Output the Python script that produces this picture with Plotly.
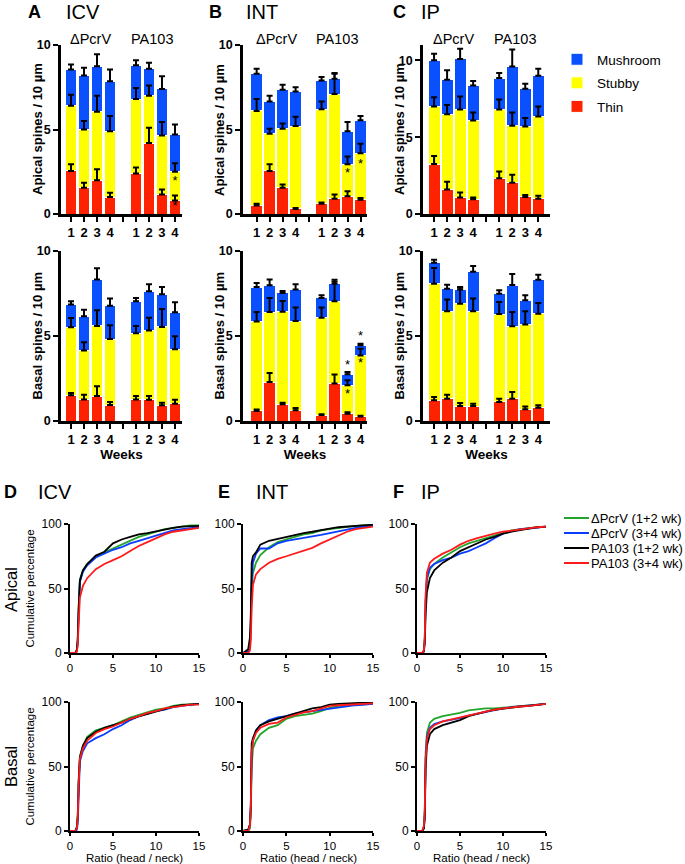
import numpy as np
import plotly.graph_objects as go

W, H = 685, 864
FONT = "Arial, 'Liberation Sans', Helvetica, sans-serif"

# ---------------- bar-chart data (segment heights, spines / 10 um) ----------------
tick_text = ["1", "2", "3", "4", "", "1", "2", "3", "4"]
bar_x = [0, 1, 2, 3, 5, 6, 7, 8]          # dPcrV wk1-4, PA103 wk1-4 (4 = gap)
group_labels = ["\u0394PcrV", "PA103"]
spine_types = ["Thin", "Stubby", "Mushroom"]
bar_colors = ["#FF2200", "#FFFF00", "#0A50FF"]

icv_ap_thin = [2.55, 1.55, 2.0, 1.0, 2.4, 4.2, 1.15, 0.8]
icv_ap_stubby = [3.85, 3.45, 4.05, 3.9, 4.4, 2.8, 3.5, 1.7]
icv_ap_mush = [2.15, 3.2, 2.7, 2.95, 2.0, 1.6, 2.75, 2.2]
icv_ap_thin_err = [0.4, 0.3, 0.65, 0.25, 0.35, 0.9, 0.3, 0.3]
icv_ap_stubby_err = [0.65, 0.5, 0.95, 0.9, 0.65, 0.6, 0.8, 0.5]
icv_ap_mush_err = [0.3, 0.45, 0.7, 0.7, 0.3, 0.35, 0.75, 0.6]

int_ap_thin = [0.5, 2.55, 1.55, 0.3, 0.6, 0.9, 1.05, 0.85]
int_ap_stubby = [5.6, 2.2, 3.5, 4.9, 5.6, 6.2, 1.9, 2.75]
int_ap_mush = [2.2, 1.9, 2.3, 2.05, 1.7, 0.9, 1.95, 1.95]
int_ap_thin_err = [0.1, 0.4, 0.2, 0.05, 0.08, 0.25, 0.3, 0.1]
int_ap_stubby_err = [0.7, 0.3, 0.3, 0.55, 0.45, 1.2, 0.45, 0.55]
int_ap_mush_err = [0.3, 0.35, 0.3, 0.25, 0.2, 0.35, 0.55, 0.25]

ip_ap_thin = [3.25, 1.6, 1.07, 0.96, 2.33, 2.03, 1.11, 1.0]
ip_ap_stubby = [3.75, 4.9, 5.73, 5.12, 4.47, 3.72, 4.58, 5.34]
ip_ap_mush = [3.0, 2.24, 3.29, 2.29, 2.05, 3.85, 2.46, 2.66]
ip_ap_thin_err = [0.52, 0.5, 0.33, 0.11, 0.44, 0.52, 0.13, 0.18]
ip_ap_stubby_err = [0.6, 0.6, 0.85, 0.52, 0.65, 0.85, 0.56, 0.66]
ip_ap_mush_err = [0.43, 0.61, 0.67, 0.28, 0.32, 1.1, 0.32, 0.45]

icv_ba_thin = [1.51, 1.27, 1.47, 0.94, 1.27, 1.25, 0.92, 1.02]
icv_ba_stubby = [4.0, 2.87, 4.12, 3.88, 3.89, 4.08, 4.61, 3.2]
icv_ba_mush = [1.35, 2.02, 2.74, 1.96, 1.88, 2.3, 1.92, 2.17]
icv_ba_thin_err = [0.14, 0.28, 0.57, 0.18, 0.2, 0.22, 0.16, 0.23]
icv_ba_stubby_err = [0.55, 0.49, 0.92, 0.81, 0.43, 0.75, 1.06, 0.76]
icv_ba_mush_err = [0.18, 0.39, 0.65, 0.42, 0.2, 0.41, 0.43, 0.59]

int_ba_thin = [0.59, 2.29, 0.98, 0.63, 0.35, 2.2, 0.43, 0.27]
int_ba_stubby = [5.27, 4.12, 5.45, 5.25, 5.73, 4.84, 1.67, 3.59]
int_ba_mush = [2.02, 1.57, 1.1, 1.85, 1.16, 1.04, 0.65, 0.59]
int_ba_thin_err = [0.08, 0.53, 0.1, 0.13, 0.04, 0.53, 0.08, 0.04]
int_ba_stubby_err = [0.55, 0.83, 0.63, 0.79, 0.59, 1.15, 0.29, 0.39]
int_ba_mush_err = [0.24, 0.35, 0.12, 0.31, 0.15, 0.23, 0.13, 0.1]

ip_ba_thin = [1.22, 1.31, 0.88, 0.88, 1.12, 1.31, 0.69, 0.78]
ip_ba_stubby = [6.86, 5.14, 6.02, 5.57, 5.17, 4.26, 4.98, 5.53]
ip_ba_mush = [1.23, 1.33, 0.83, 2.33, 1.2, 2.43, 1.43, 2.0]
ip_ba_thin_err = [0.19, 0.24, 0.18, 0.14, 0.19, 0.4, 0.17, 0.14]
ip_ba_stubby_err = [0.92, 0.69, 0.94, 0.75, 0.71, 0.84, 0.78, 0.63]
ip_ba_mush_err = [0.18, 0.24, 0.15, 0.34, 0.2, 0.65, 0.29, 0.3]

# significance stars (bar position, y)
icv_ap_star_x = [8, 8]
icv_ap_star_y = [0.4, 1.9]
int_ap_star_x = [7, 8]
int_ap_star_y = [2.4, 2.9]
int_ba_star_x = [7, 7, 8, 8]
int_ba_star_y = [1.55, 3.25, 3.35, 4.95]

# ---------------- cumulative distribution data ----------------
cdf_x = [0, 0.6, 0.8, 0.9, 1.0, 1.15, 1.5, 2, 3, 4, 5, 6, 7, 8, 9, 10, 11, 12, 13, 14, 15]
cdf_names = ["\u0394PcrV (1+2 wk)", "\u0394PcrV (3+4 wk)", "PA103 (1+2 wk)", "PA103 (3+4 wk)"]
cdf_colors = ["#22A52A", "#0A3CFF", "#000000", "#FF1A1A"]

icv_ap_dp12 = [0, 0, 3, 12, 35, 57, 64, 69, 75, 78, 81, 84, 87, 90, 92, 94, 96, 97, 98, 99, 99]
icv_ap_dp34 = [0, 0, 2, 9, 30, 55, 63, 68, 74, 77, 80, 82, 85, 87, 89, 91, 93, 95, 96, 97, 97.5]
icv_ap_pa12 = [0, 0, 2, 10, 33, 56, 64, 69, 75.5, 78.5, 85, 88, 90, 92, 93, 94.5, 96, 97, 98, 98.5, 98.5]
icv_ap_pa34 = [0, 0, 1, 6, 22, 43, 52, 58, 65, 69, 72, 75, 79, 83, 86, 89, 92, 94, 95, 96, 97]

int_ap_dp12 = [0, 1, 5, 18, 50, 62, 70, 76, 82, 86, 88, 90, 92, 93, 95, 96, 97, 98, 98.5, 99, 99]
int_ap_dp34 = [0, 1, 6, 20, 55, 70, 77, 81, 81, 85, 87, 88, 89, 90, 91.5, 93, 94.5, 96, 97, 98, 98.5]
int_ap_pa12 = [0, 3, 12, 30, 70, 75, 78, 84, 87, 88.5, 90.5, 92, 93, 94, 95.5, 96.5, 97.5, 98, 99, 99, 99.5]
int_ap_pa34 = [0, 0, 2, 10, 35, 53, 61, 65, 70, 73, 75, 77, 79, 81.5, 85, 88, 91, 94, 96, 97, 98]

ip_ap_dp12 = [0, 0, 2, 10, 40, 57, 65, 69, 74, 78, 82, 85, 87, 89, 91, 93, 95, 96, 97, 97.5, 98]
ip_ap_dp34 = [0, 0, 2, 10, 40, 58, 66, 69, 72, 74, 77, 79, 82, 85, 89, 92.5, 94.5, 96, 96.5, 97.5, 98]
ip_ap_pa12 = [0, 0, 1, 8, 30, 47, 58, 64, 70, 74, 79, 82, 85, 88, 90, 92.5, 94, 95.5, 96.5, 97.5, 98]
ip_ap_pa34 = [0, 0, 2, 12, 45, 62, 70, 73, 77, 80, 84, 87, 89, 91, 92.5, 94, 95, 96, 97, 97.5, 98]

icv_ba_dp12 = [0, 0, 3, 12, 38, 58, 66, 73, 78, 80, 82, 85, 88, 90, 92, 94, 95, 97, 98, 98.5, 98.5]
icv_ba_dp34 = [0, 0, 1, 6, 25, 54, 62, 68, 72, 75, 79, 82, 86, 89, 91, 93, 94, 96, 97, 98, 98.5]
icv_ba_pa12 = [0, 0, 3, 12, 38, 57, 66, 72, 77, 80, 82, 84, 87, 89, 91, 93, 95, 96.5, 97.5, 98, 98.5]
icv_ba_pa34 = [0, 0, 2, 10, 35, 56, 64, 70, 76, 79, 81, 84, 87, 89, 91.5, 93, 95, 96, 97, 98, 98]

int_ba_dp12 = [0, 0, 2, 12, 50, 64, 70, 75, 80, 82, 87, 89, 90, 91, 93, 95.5, 97, 97.5, 98, 98.5, 98.5]
int_ba_dp34 = [0, 1, 5, 20, 62, 70, 78, 82, 86, 88, 89, 91, 92, 93, 94, 95, 96, 97, 97.5, 98, 98.5]
int_ba_pa12 = [0, 1, 5, 20, 68, 72, 78, 82, 85, 87, 89, 91, 93, 95, 96, 98, 98.5, 99, 99, 99.5, 99.5]
int_ba_pa34 = [0, 0, 4, 18, 60, 70, 76, 80, 83, 84, 88, 90, 92, 93, 95, 97, 97.5, 98, 98.5, 99, 99]

ip_ba_dp12 = [0, 0, 3, 15, 60, 76, 84, 87, 89, 90, 91.5, 93.5, 94.5, 95, 95, 95.5, 96, 97, 97.5, 98, 98.5]
ip_ba_dp34 = [0, 0, 2, 12, 55, 73, 80, 83, 85, 86, 87.5, 89.5, 91, 92.5, 94, 95, 96, 96.5, 97, 98, 98.5]
ip_ba_pa12 = [0, 0, 2, 10, 48, 66, 75, 79, 82, 84, 86, 89, 91, 92.5, 94, 95, 96, 96.5, 97, 98, 98.5]
ip_ba_pa34 = [0, 0, 4, 15, 55, 71, 79, 82, 85, 86.5, 88, 90, 91.5, 93, 94, 95, 96, 96.5, 97, 98, 98.5]


# ---------------- helpers (window pixels -> paper fractions) ----------------
def px(x):
    return x / W


def py(y):
    return 1 - y / H


def dx(p0, p1):
    return [px(p0), px(p1)]


def dy(top, bottom):
    return [py(bottom), py(top)]


def axname(i, letter):
    return letter if i == 1 else f"{letter}{i}"


fig = go.Figure()
layout = dict(
    width=W, height=H, margin=dict(l=0, r=0, t=0, b=0, pad=0, autoexpand=False),
    paper_bgcolor="white", plot_bgcolor="white",
    barmode="stack", font=dict(family=FONT, color="black"),
    showlegend=True,
)

annotations = []
shapes = []

bar_panels = [
    # pixel box (x0, x1, ytop, ybottom), x range, y range, series, errors, stars
    ((61, 182, 45, 214), [-0.77, 8.54], [0, 10], (icv_ap_thin, icv_ap_stubby, icv_ap_mush),
     (icv_ap_thin_err, icv_ap_stubby_err, icv_ap_mush_err), (icv_ap_star_x, icv_ap_star_y)),
    ((243, 367, 45, 214), [-1.05, 8.5], [0, 10], (int_ap_thin, int_ap_stubby, int_ap_mush),
     (int_ap_thin_err, int_ap_stubby_err, int_ap_mush_err), (int_ap_star_x, int_ap_star_y)),
    ((423, 550, 45, 214), [-0.85, 8.9], [0, 11], (ip_ap_thin, ip_ap_stubby, ip_ap_mush),
     (ip_ap_thin_err, ip_ap_stubby_err, ip_ap_mush_err), None),
    ((61, 182, 251, 421), [-0.77, 8.54], [0, 10], (icv_ba_thin, icv_ba_stubby, icv_ba_mush),
     (icv_ba_thin_err, icv_ba_stubby_err, icv_ba_mush_err), None),
    ((243, 367, 251, 421), [-1.05, 8.5], [0, 10], (int_ba_thin, int_ba_stubby, int_ba_mush),
     (int_ba_thin_err, int_ba_stubby_err, int_ba_mush_err), (int_ba_star_x, int_ba_star_y)),
    ((423, 550, 251, 421), [-0.85, 8.9], [0, 10], (ip_ba_thin, ip_ba_stubby, ip_ba_mush),
     (ip_ba_thin_err, ip_ba_stubby_err, ip_ba_mush_err), None),
]

for i, (box, xr, yr, segs, errs, stars) in enumerate(bar_panels, start=1):
    xa, ya = axname(i, "x"), axname(i, "y")
    tops = np.cumsum(np.array(segs, dtype=float), axis=0)
    for k, name in enumerate(spine_types):
        fig.add_trace(go.Bar(
            x=bar_x, y=segs[k], name=name, width=0.92,
            marker=dict(color=bar_colors[k], line=dict(color="white", width=1)),
            xaxis=xa, yaxis=ya, showlegend=(i == 1), legend="legend",
            legendgroup=name, legendrank=3 - k, hoverinfo="skip"))
    for k in range(3):
        fig.add_trace(go.Scatter(
            x=bar_x, y=tops[k], mode="markers", marker=dict(size=1, opacity=0),
            error_y=dict(type="data", array=errs[k], arrayminus=[0] * len(errs[k]),
                         symmetric=False, color="black", thickness=2, width=3),
            xaxis=xa, yaxis=ya, showlegend=False, hoverinfo="skip"))
    if stars:
        fig.add_trace(go.Scatter(
            x=stars[0], y=stars[1], mode="text", text=["*"] * len(stars[0]),
            textfont=dict(size=13, color="black", family=FONT),
            xaxis=xa, yaxis=ya, showlegend=False, hoverinfo="skip"))
    x0, x1, yt, yb = box
    bottom_row = i > 3
    layout["xaxis" + ("" if i == 1 else str(i))] = dict(
        domain=dx(x0, x1), range=xr, anchor=ya, tickmode="array", automargin=False,
        tickvals=list(range(9)), ticktext=tick_text, showline=True, linecolor="black",
        linewidth=2.5, ticks="outside", ticklen=5, tickwidth=2, tickcolor="black",
        showgrid=False, zeroline=False, fixedrange=True,
        tickfont=dict(size=13, weight="bold"),
        title=dict(text="Weeks" if bottom_row else "", font=dict(size=13.5, weight="bold"), standoff=2),
    )
    layout["yaxis" + ("" if i == 1 else str(i))] = dict(
        domain=dy(yt, yb), range=yr, anchor=xa, tickmode="array", tickvals=[0, 5, 10],
        showline=True, linecolor="black", linewidth=2.5, ticks="outside", ticklen=5,
        tickwidth=2, tickcolor="black", showgrid=False, zeroline=False, automargin=False,
        tickfont=dict(size=12.5, weight="bold"),
    )
    # y-axis title sits tight against the tick labels, as in the original
    annotations.append(dict(
        x=px(x0 - 23.5), y=py((yt + yb) / 2), xref="paper", yref="paper",
        text=("Basal" if bottom_row else "Apical") + " spines / 10 \u00b5m",
        showarrow=False, textangle=-90, xanchor="center", yanchor="middle",
        font=dict(size=13, weight="bold")))

line_panels = [
    ((70, 199, 524, 653), (icv_ap_dp12, icv_ap_dp34, icv_ap_pa12, icv_ap_pa34)),
    ((243, 373, 524, 653), (int_ap_dp12, int_ap_dp34, int_ap_pa12, int_ap_pa34)),
    ((417, 546, 524, 653), (ip_ap_dp12, ip_ap_dp34, ip_ap_pa12, ip_ap_pa34)),
    ((70, 199, 702, 831), (icv_ba_dp12, icv_ba_dp34, icv_ba_pa12, icv_ba_pa34)),
    ((243, 373, 702, 831), (int_ba_dp12, int_ba_dp34, int_ba_pa12, int_ba_pa34)),
    ((417, 546, 702, 831), (ip_ba_dp12, ip_ba_dp34, ip_ba_pa12, ip_ba_pa34)),
]

for j, (box, curves) in enumerate(line_panels):
    i = 7 + j
    xa, ya = axname(i, "x"), axname(i, "y")
    for k, ys in enumerate(curves):
        fig.add_trace(go.Scatter(
            x=cdf_x, y=ys, mode="lines", name=cdf_names[k],
            line=dict(color=cdf_colors[k], width=1.8),
            xaxis=xa, yaxis=ya, showlegend=False, hoverinfo="skip"))
    x0, x1, yt, yb = box
    bottom_row = j >= 3
    first_col = j % 3 == 0
    layout["xaxis" + str(i)] = dict(
        domain=dx(x0, x1), range=[0, 15], anchor=ya, tickvals=[0, 5, 10, 15],
        showline=True, linecolor="black", linewidth=2, ticks="outside", ticklen=3,
        tickwidth=1.5, tickcolor="black", showgrid=False, zeroline=False, automargin=False,
        tickfont=dict(size=11.5),
    )
    if bottom_row:
        annotations.append(dict(
            x=(x0 + x1) / 2 / W, y=py(858), xref="paper", yref="paper",
            text="Ratio (head / neck)", showarrow=False, xanchor="center", yanchor="middle",
            font=dict(size=11.5)))
    layout["yaxis" + str(i)] = dict(
        domain=dy(yt, yb), range=[0, 100], anchor=xa, tickvals=[0, 50, 100],
        showline=True, linecolor="black", linewidth=2, ticks="outside", ticklen=4,
        tickwidth=1.5, tickcolor="black", showgrid=False, zeroline=False, automargin=False,
        tickfont=dict(size=12),
        title=dict(text="Cumulative percentage" if first_col else "", font=dict(size=11.5), standoff=5),
    )

# legend for bars
layout["legend"] = dict(
    x=px(557), y=py(44), xanchor="left", yanchor="top", bgcolor="rgba(0,0,0,0)",
    font=dict(size=13.5), tracegroupgap=3, itemwidth=30, traceorder="grouped",
)

# line legend (manual, compact)
for k, name in enumerate(cdf_names):
    yk = 518 + 15 * k
    shapes.append(dict(type="line", xref="paper", yref="paper", x0=px(564), x1=px(589),
                       y0=py(yk), y1=py(yk), line=dict(color=cdf_colors[k], width=2)))
    annotations.append(dict(x=px(589), y=py(yk), xref="paper", yref="paper", text=name,
                            showarrow=False, xanchor="left", yanchor="middle",
                            font=dict(size=13)))

# panel letters and titles
for letter, lx, name, nx, yy in [("A", 26, "ICV", 64, 12), ("B", 207, "INT", 244, 12),
                                 ("C", 391, "IP", 419, 12), ("D", 2, "ICV", 36, 492),
                                 ("E", 216, "INT", 254, 492), ("F", 391, "IP", 419, 492)]:
    annotations.append(dict(x=px(lx), y=py(yy), xref="paper", yref="paper", text=f"<b>{letter}</b>",
                            showarrow=False, xanchor="left", yanchor="middle", font=dict(size=18)))
    annotations.append(dict(x=px(nx), y=py(yy), xref="paper", yref="paper", text=name,
                            showarrow=False, xanchor="left", yanchor="middle", font=dict(size=20)))

# group labels above apical bar panels
for i in (1, 2, 3):
    for g, gx in zip(group_labels, [1.5, 6.2]):
        annotations.append(dict(x=gx, y=py(39), xref=axname(i, "x"), yref="paper", text=g,
                                showarrow=False, xanchor="center", yanchor="middle",
                                font=dict(size=14.5)))

# row labels for cumulative plots
for lab, yy in [("Apical", 590), ("Basal", 767)]:
    annotations.append(dict(x=px(11), y=py(yy), xref="paper", yref="paper", text=lab,
                            showarrow=False, textangle=-90, xanchor="center", yanchor="middle",
                            font=dict(size=16.5)))

layout["annotations"] = annotations
layout["shapes"] = shapes
fig.update_layout(**layout)
# remove the browser's default 8 px body margin so the figure fills the window
fig.write_html("out.html", config={"displayModeBar": False},
               post_script="document.body.style.margin='0px';")
